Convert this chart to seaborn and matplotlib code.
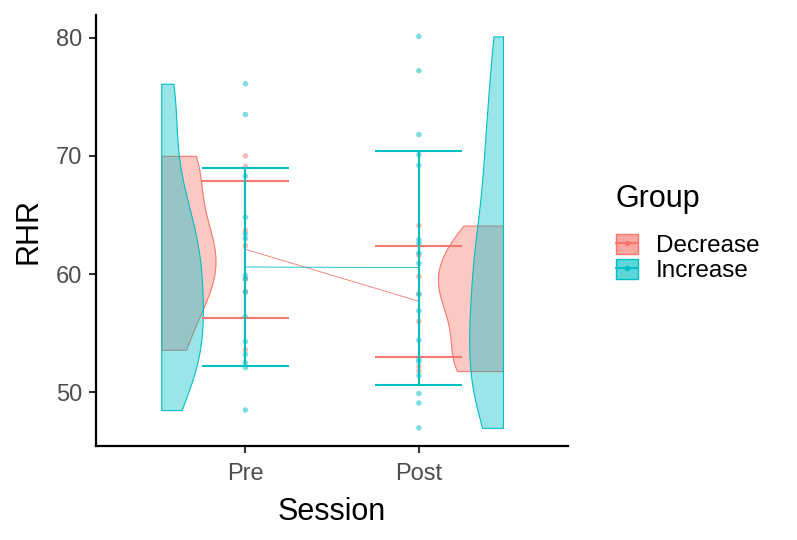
import numpy as np
import pandas as pd
import matplotlib
matplotlib.use("Agg")
import matplotlib.pyplot as plt
import seaborn as sns
from matplotlib.colors import to_rgb, to_rgba
from matplotlib.patches import Patch
from matplotlib.lines import Line2D
from matplotlib.legend_handler import HandlerTuple
from matplotlib.collections import PolyCollection

sessions = ["Pre", "Post"]
groups = ["Decrease", "Increase"]
colours = {"Decrease": "#F8766D", "Increase": "#00BFC4"}

# RHR readings
pre_decrease = [70.0, 69.1, 63.7, 62.4, 59.6, 58.5, 53.6]
pre_increase = [76.1, 73.5, 68.3, 64.8, 63.4, 63.0, 59.9, 59.6, 58.5,
                56.4, 54.3, 53.2, 52.5, 52.1, 48.5]
post_decrease = [64.1, 61.6, 59.8, 58.3, 56.0, 52.2, 51.8]
post_increase = [80.1, 77.2, 71.8, 70.1, 69.2, 62.9, 62.6, 61.8, 60.9,
                 58.3, 56.9, 54.4, 52.8, 52.6, 51.4, 49.9, 49.1, 47.0]

# mean and sd per session
mean_decrease = [62.1, 57.7]
sd_decrease = [5.8, 4.7]
mean_increase = [60.6, 60.55]
sd_increase = [8.4, 9.9]

rows = []
for session, group, vals in [("Pre", "Decrease", pre_decrease),
                             ("Pre", "Increase", pre_increase),
                             ("Post", "Decrease", post_decrease),
                             ("Post", "Increase", post_increase)]:
    for v in vals:
        rows.append((session, group, v))
df = pd.DataFrame(rows, columns=["Session", "Group", "RHR"])

sns.set_style("ticks")
plt.rcParams["font.family"] = ["Liberation Sans", "DejaVu Sans"]

fig = plt.figure(figsize=(7.97, 5.40), dpi=100)
ax = fig.add_axes([0.1205, 0.174, 0.592, 0.798])

# half violins: seaborn computes the densities, then each body is cut in half
sns.violinplot(data=df, x="Session", y="RHR", hue="Group", order=sessions,
               hue_order=groups, palette=colours, dodge=False, inner=None,
               cut=0, density_norm="area", common_norm=True, width=0.75,
               bw_adjust=0.85, saturation=1, linewidth=0.8, legend=False, ax=ax)

flat_edge = {0: -0.485, 1: 1.485}
for coll in list(ax.collections):
    if not isinstance(coll, PolyCollection):
        continue
    verts = coll.get_paths()[0].vertices.copy()
    c = int(np.round((verts[:, 0].min() + verts[:, 0].max()) / 2))
    if c == 0:
        verts[:, 0] = np.maximum(verts[:, 0], c) - c + flat_edge[c]
    else:
        verts[:, 0] = np.minimum(verts[:, 0], c) - c + flat_edge[c]
    fc = np.array(coll.get_facecolor()[0][:3])
    g = min(groups, key=lambda k: np.abs(fc - np.array(to_rgb(colours[k]))).sum())
    coll.set_verts([verts])
    coll.set_facecolor(to_rgba(colours[g], 0.4))
    coll.set_edgecolor(colours[g])
    coll.set_linewidth(0.8)
    coll.set_zorder(1 if g == "Decrease" else 1.2)

sns.stripplot(data=df, x="Session", y="RHR", hue="Group", order=sessions,
              hue_order=groups, palette=colours, jitter=False, dodge=False,
              size=4, alpha=0.5, linewidth=0, legend=False, zorder=2, ax=ax)

xs = np.arange(len(sessions))
for g, means, sds, z in [("Decrease", mean_decrease, sd_decrease, 3),
                         ("Increase", mean_increase, sd_increase, 3.2)]:
    means = np.array(means)
    sds = np.array(sds)
    lo, hi = means - sds, means + sds
    ax.vlines(xs, lo, hi, color=colours[g], lw=1.5, zorder=z)
    ax.hlines(lo, xs - 0.25, xs + 0.25, color=colours[g], lw=1.5, zorder=z)
    ax.hlines(hi, xs - 0.25, xs + 0.25, color=colours[g], lw=1.5, zorder=z)
    ax.plot(xs, means, color=colours[g], lw=0.6, zorder=z)

ax.set_xlim(-0.861, 1.859)
ax.set_ylim(45.46, 81.9)
ax.set_yticks([50, 60, 70, 80])
ax.set_xlabel("Session", fontsize=22, labelpad=9, color="black")
ax.set_ylabel("RHR", fontsize=22, labelpad=9, color="black")
ax.tick_params(axis="both", labelsize=17, labelcolor="#4D4D4D", length=5,
               width=1.5, color="#333333")
ax.tick_params(axis="x", pad=7)
ax.tick_params(axis="y", pad=5)
for side in ["top", "right"]:
    ax.spines[side].set_visible(False)
for side in ["left", "bottom"]:
    ax.spines[side].set_linewidth(1.6)
    ax.spines[side].set_color("black")

handles = []
for g in groups:
    key = Patch(facecolor=to_rgba(colours[g], 0.64), edgecolor=colours[g], linewidth=1)
    mark = Line2D([], [], color=colours[g], lw=1.5, marker="o", markersize=3)
    handles.append((key, mark))
leg = fig.legend(handles, groups, title="Group", loc="center left",
                 bbox_to_anchor=(0.745, 0.568), frameon=False, fontsize=17.5,
                 title_fontsize=22, handlelength=0.9, handleheight=0.9,
                 handletextpad=0.75, labelspacing=0.05,
                 handler_map={tuple: HandlerTuple(ndivide=1, pad=0)})
leg._legend_box.align = "left"
leg._legend_box.sep = 14
leg.get_title().set_color("black")
for t in leg.get_texts():
    t.set_color("black")

fig.savefig("out.png", dpi=100)
